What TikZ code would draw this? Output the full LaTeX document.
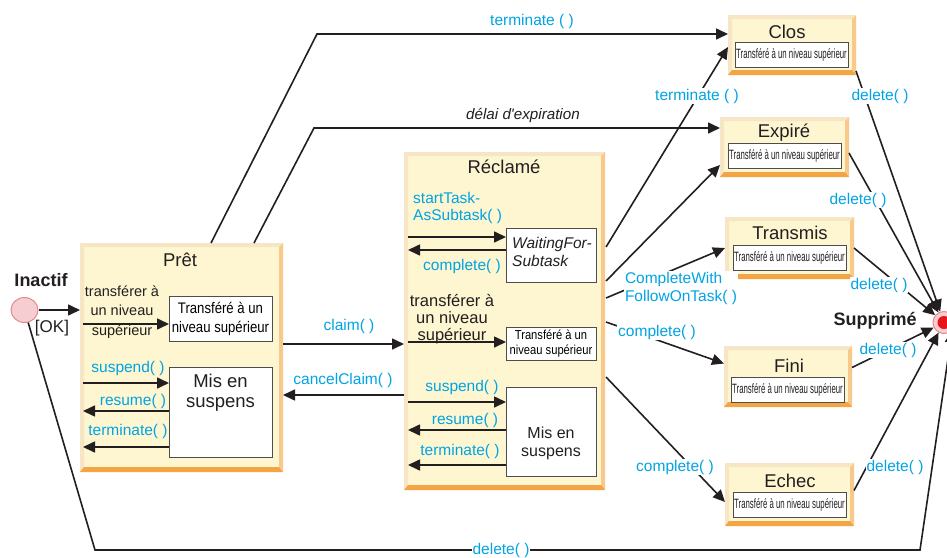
\documentclass[tikz,border=0pt]{standalone}
\usepackage{fontspec}
\setmainfont{Liberation Sans}
\newfontfamily\narrowA[FakeStretch=0.58]{Liberation Sans}
\newfontfamily\narrowB[FakeStretch=0.86]{Liberation Sans}
\usetikzlibrary{arrows.meta,shapes.geometric}
\definecolor{ink}{HTML}{231F20}
\definecolor{cy}{HTML}{00A4E4}
\definecolor{boxfill}{HTML}{FEF6D1}
\definecolor{bevR}{HTML}{F8C98A}
\definecolor{bevB}{HTML}{F5A443}
\definecolor{bevT}{HTML}{F6E6C6}
\definecolor{inb}{HTML}{4D4D4D}
\definecolor{pinkf}{HTML}{F6CDD0}
\definecolor{pinkd}{HTML}{E58A8A}
\definecolor{dotred}{HTML}{E8141C}
\newcommand\fz[2]{\fontsize{#1}{#2}\selectfont}
\newcommand\stbevel[1]{%
 \fill[bevT] (#1.north west) -- (#1.north east) -- ([shift={(-4,4)}]#1.north east) -- ([shift={(4,4)}]#1.north west) -- cycle;
 \fill[bevT] (#1.north west) -- (#1.south west) -- ([shift={(4,-4)}]#1.south west) -- ([shift={(4,4)}]#1.north west) -- cycle;
 \fill[bevR] (#1.north east) -- (#1.south east) -- ([shift={(-4,-5)}]#1.south east) -- ([shift={(-4,4)}]#1.north east) -- cycle;
 \fill[bevB] (#1.south west) -- (#1.south east) -- ([shift={(-4,-5)}]#1.south east) -- ([shift={(4,-5)}]#1.south west) -- cycle;
}
\tikzset{
 stbox/.style={fill=boxfill, inner sep=0pt, outer sep=0pt},
 inbox/.style={draw=inb, line width=1pt, fill=white, inner sep=0pt, outer sep=0pt},
 title/.style={text=ink, font=\fz{18.5}{20}, inner sep=0pt},
 lbl/.style={text=cy, font=\fz{15.5}{17}, inner sep=1pt},
 lblw/.style={lbl, fill=white},
 blk/.style={text=ink, inner sep=0pt, align=center},
 arr/.style={draw=ink, line width=1.6pt, -{Triangle[length=12pt,width=11pt]}},
 farnote/.style={text=ink, font=\narrowA\fz{13.5}{13.5}},
}
\begin{document}
\begin{tikzpicture}[x=1pt,y=-1pt]
\useasboundingbox (0,0) rectangle (947,557);
\clip (0,0) rectangle (947,557);
\fill[white] (0,0) rectangle (947,557);

% ---------- state boxes ----------
\node[stbox, minimum width=203pt, minimum height=229pt] (pret) at (181.5,357.5) {};
\node[stbox, minimum width=201pt, minimum height=338pt] (recl) at (504.5,321) {};
\node[stbox, minimum width=128pt, minimum height=60pt] (clos) at (792,45) {};
\node[stbox, minimum width=129pt, minimum height=60pt] (expi) at (784.5,147) {};
\node[stbox, minimum width=129pt, minimum height=62pt] (transm) at (789.5,248) {};
\node[stbox, minimum width=128pt, minimum height=61pt] (fini) at (788,376.5) {};
\node[stbox, minimum width=129pt, minimum height=63pt] (echec) at (789.5,494.5) {};
\stbevel{pret}\stbevel{recl}\stbevel{clos}\stbevel{expi}\stbevel{transm}\stbevel{fini}\stbevel{echec}

% titles
\node[title] (pretT) at (180,260) {Prêt};
\node[title] (reclT) at (504,167) {Réclamé};
\node[title] (closT) at (787,32) {Clos};
\node[title] (expiT) at (784,133) {Expiré};
\node[title] (transmT) at (790,233) {Transmis};
\node[title] (finiT) at (789,366) {Fini};
\node[title] (echecT) at (790,481) {Echec};

% inner boxes
\node[inbox, minimum width=103pt, minimum height=45pt, align=center, font=\narrowB\fz{15.3}{19}] (pesc) at (220.5,318.5) {Transféré à un\\niveau supérieur};
\node[inbox, minimum width=103pt, minimum height=90pt] (pmis) at (220.5,412) {};
\node[blk, font=\fz{18.5}{20}] (pmisT) at (220.5,393) {Mis en\\suspens};
\node[inbox, minimum width=90pt, minimum height=54pt] (rwait) at (551,255) {};
\node[blk, anchor=west, align=left, font=\itshape\fz{15.5}{18}] (rwaitT) at (512,252) {WaitingFor-\\Subtask};
\node[inbox, minimum width=90pt, minimum height=33pt, align=center, font=\narrowB\fz{13}{15}] (resc) at (551,343.5) {Transféré à un\\niveau supérieur};
\node[inbox, minimum width=90pt, minimum height=89pt] (rmis) at (551,431.5) {};
\node[blk, font=\fz{16}{18}] (rmisT) at (551,443) {Mis en\\suspens};
\node[inbox, minimum width=113pt, minimum height=25pt, farnote] (closI) at (791.5,54.5) {Transféré à un niveau supérieur};
\node[inbox, minimum width=113pt, minimum height=25pt, farnote] (expiI) at (784.5,155.5) {Transféré à un niveau supérieur};
\node[inbox, minimum width=113pt, minimum height=25pt, farnote] (transmI) at (789.5,257.5) {Transféré à un niveau supérieur};
\node[inbox, minimum width=113pt, minimum height=25pt, farnote] (finiI) at (787.5,389.5) {Transféré à un niveau supérieur};
\node[inbox, minimum width=113pt, minimum height=25pt, farnote] (echecI) at (789.5,504.5) {Transféré à un niveau supérieur};

% initial / final
\node[ellipse, minimum width=27pt, minimum height=25pt, fill=pinkf, draw=pinkd, line width=1pt, inner sep=0pt] (inactif) at (24.5,310) {};
\node[text=ink, font=\bfseries\fz{18}{20}, inner sep=0pt] (inactifT) at (41,280) {Inactif};
\node[circle, minimum size=22pt, fill=pinkf, draw=pinkd, line width=1pt, inner sep=0pt] (supp) at (944,322.5) {};
\node[circle, minimum size=13pt, fill=dotred, inner sep=0pt] (suppdot) at (supp.center) {};
\node[text=ink, font=\bfseries\fz{18}{20}, inner sep=0pt] (suppT) at (875,321) {Supprimé};

% ---------- Prêt internals ----------
\draw[arr] (inactif.east) -- (inactif.east -| pret.west);
\node[text=ink, font=\fz{17}{18}, inner sep=0pt] (ok) at (52,328) {[OK]};
\node[blk, font=\fz{14.5}{19.5}] (pTr) at (122,312) {transférer à\\un niveau\\supérieur};
\coordinate (pa1) at (83,324);
\coordinate (pa2) at (83,383);
\coordinate (pa3) at (83,411);
\coordinate (pa4) at (83,447);
\draw[arr] (pa1) -- (pa1 -| pesc.west);
\draw[arr] (pa2) -- (pa2 -| pmis.west);
\draw[arr] (pa3 -| pmis.west) -- (pa3);
\draw[arr] (pa4 -| pmis.west) -- (pa4);
\node[lbl] (l1) at (128,368) {suspend( )};
\node[lbl] (l2) at (133,401) {resume( )};
\node[lbl] (l3) at (128,431) {terminate( )};

% ---------- Réclamé internals ----------
\node[lbl, anchor=west, align=left, font=\fz{15.5}{16.5}] (l4) at (412,208) {startTask-\\AsSubtask( )};
\coordinate (ra1) at (408,237);
\coordinate (ra2) at (408,250);
\coordinate (ra3) at (408,342);
\coordinate (ra4) at (408,402);
\coordinate (ra5) at (408,430);
\coordinate (ra6) at (408,465);
\draw[arr] (ra1) -- (ra1 -| rwait.west);
\draw[arr] (ra2 -| rwait.west) -- (ra2);
\node[lbl] (l5) at (462,266) {complete( )};
\node[blk, font=\fz{16.5}{17}] (rTr) at (452,319) {transférer à\\un niveau\\supérieur};
\draw[arr] (ra3) -- (ra3 -| resc.west);
\draw[arr] (ra4) -- (ra4 -| rmis.west);
\draw[arr] (ra5 -| rmis.west) -- (ra5);
\draw[arr] (ra6 -| rmis.west) -- (ra6);
\node[lbl] (l6) at (462,387) {suspend( )};
\node[lbl] (l7) at (465,420) {resume( )};
\node[lbl] (l8) at (460,451) {terminate( )};

% ---------- claim / cancelClaim ----------
\coordinate (cl) at (283,344);
\coordinate (cc) at (404,395);
\draw[arr] (cl) -- (cl -| recl.west);
\draw[arr] (cc) -- (cc -| pret.east);
\node[lbl] (l9) at (349,326) {claim( )};
\node[lbl] (l10) at (343,380) {cancelClaim( )};

% ---------- top connectors ----------
\coordinate (t0) at (211,243);
\coordinate (t1) at (317,34);
\draw[arr] (t0) -- (t1) -- (t1 -| clos.west);
\node[lbl] (l11) at (532,21) {terminate ( )};
\coordinate (e0) at (254,243);
\coordinate (e1) at (314,128);
\draw[arr] (e0) -- (e1) -- (e1 -| expi.west);
\node[text=ink, font=\itshape\fz{15.2}{17}, inner sep=0pt] (l12) at (523,115) {délai d\textquotesingle expiration};

% ---------- from Réclamé to final states ----------
\coordinate (r1) at (606,247);
\coordinate (r2) at (606,281);
\coordinate (r3) at (606,298);
\coordinate (r4) at (606,322);
\coordinate (r5) at (606,377);
\draw[arr] (r1) -- ([yshift=-2pt]clos.west);
\draw[arr] (r2) -- ([yshift=-18pt]expi.west);
\draw[arr] (r3) -- (transm.west);
\draw[arr] (r4) -- ([yshift=13pt]fini.west);
\draw[arr] (r5) -- ([yshift=-7.5pt]echec.west);
\node[lblw] (l13) at (697,96) {terminate ( )};
\node[lblw, align=left, font=\fz{15.5}{18}] (l14) at (681,288) {CompleteWith\\FollowOnTask( )};
\node[lblw] (l15) at (657,332) {complete( )};
\node[lblw] (l16) at (675,467) {complete( )};

% ---------- deletes ----------
\draw[arr] ([yshift=4pt]clos.south east) -- (supp);
\draw[arr] ([yshift=-6pt]expi.east) -- (supp);
\draw[arr] (transm.east) -- (supp);
\draw[arr] ([yshift=9pt]fini.east) -- (supp);
\draw[arr] ([yshift=4pt]echec.east) -- (supp);
\node[lblw] (d1) at (880,96) {delete( )};
\node[lblw] (d2) at (858,200) {delete( )};
\node[lblw] (d3) at (879,285) {delete( )};
\node[lblw] (d4) at (888,350) {delete( )};
\node[lblw] (d5) at (895,467) {delete( )};

% ---------- bottom delete ----------
\coordinate (b1) at (95,550);
\coordinate (b2) at (920,550);
\draw[arr] (inactif) -- (b1) -- (b2) -- (supp.south east);
\node[lblw] (d6) at (501,550) {delete( )};
\end{tikzpicture}
\end{document}
